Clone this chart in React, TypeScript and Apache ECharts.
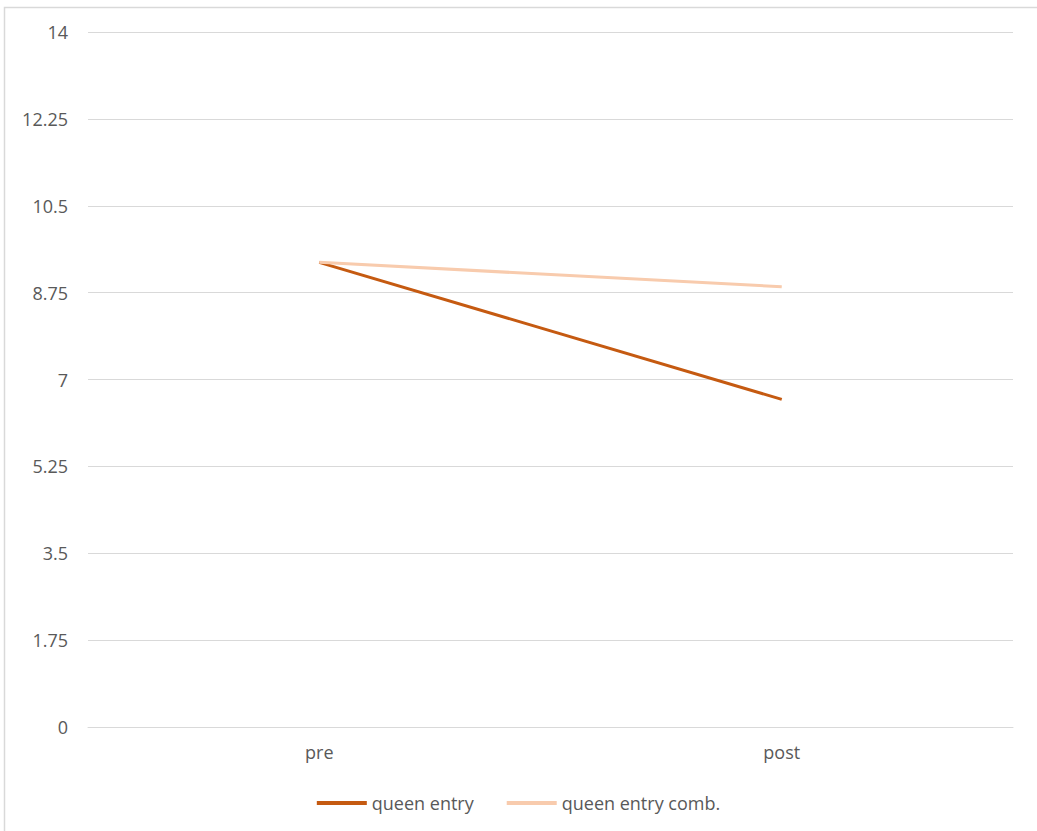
import React, { useEffect, useRef } from "react";
import * as echarts from "echarts";

const categories = ["pre", "post"];
const queenEntry = [9.36, 6.6];
const queenEntryComb = [9.36, 8.87];
const yMin = 0;
const yMax = 14;
const yInterval = 1.75;

export default function App() {
  const ref = useRef<HTMLDivElement>(null);
  useEffect(() => {
    if (!ref.current) return;
    const chart = echarts.init(ref.current, undefined, { renderer: "svg" });
    const font = "'Open Sans', 'Liberation Sans', sans-serif";
    chart.setOption({
      animation: false,
      backgroundColor: "#ffffff",
      textStyle: { fontFamily: font },
      graphic: [
        {
          type: "rect",
          shape: { x: 4.5, y: 7.5, width: 1040, height: 830 },
          style: { fill: "none", stroke: "#d9d9d9", lineWidth: 1.5 },
          silent: true,
        },
      ],
      grid: { left: 88, right: 24, top: 32, bottom: 104 },
      legend: {
        top: 789,
        left: "center",
        itemWidth: 50,
        itemHeight: 4,
        itemGap: 33,
        icon: "rect",
        textStyle: { color: "#595959", fontSize: 18, fontFamily: font },
        data: ["queen entry", "queen entry comb."],
      },
      xAxis: {
        type: "category",
        data: categories,
        boundaryGap: true,
        axisLine: { show: true, lineStyle: { color: "#d9d9d9", width: 1 } },
        axisTick: { show: false },
        axisLabel: { color: "#595959", fontSize: 18, margin: 16, fontFamily: font },
      },
      yAxis: {
        type: "value",
        min: yMin,
        max: yMax,
        interval: yInterval,
        axisLine: { show: false },
        axisTick: { show: false },
        splitLine: { lineStyle: { color: "#d9d9d9", width: 1 } },
        axisLabel: { color: "#595959", fontSize: 18, margin: 20, fontFamily: font },
      },
      series: [
        {
          name: "queen entry",
          type: "line",
          data: queenEntry,
          symbol: "none",
          lineStyle: { color: "#c55a11", width: 3 },
          itemStyle: { color: "#c55a11" },
        },
        {
          name: "queen entry comb.",
          type: "line",
          data: queenEntryComb,
          symbol: "none",
          lineStyle: { color: "#f8cbad", width: 3 },
          itemStyle: { color: "#f8cbad" },
        },
      ],
    });
    return () => chart.dispose();
  }, []);
  return (
    <div
      ref={ref}
      style={{ position: "absolute", left: 0, top: 0, width: 1037, height: 831 }}
    />
  );
}
